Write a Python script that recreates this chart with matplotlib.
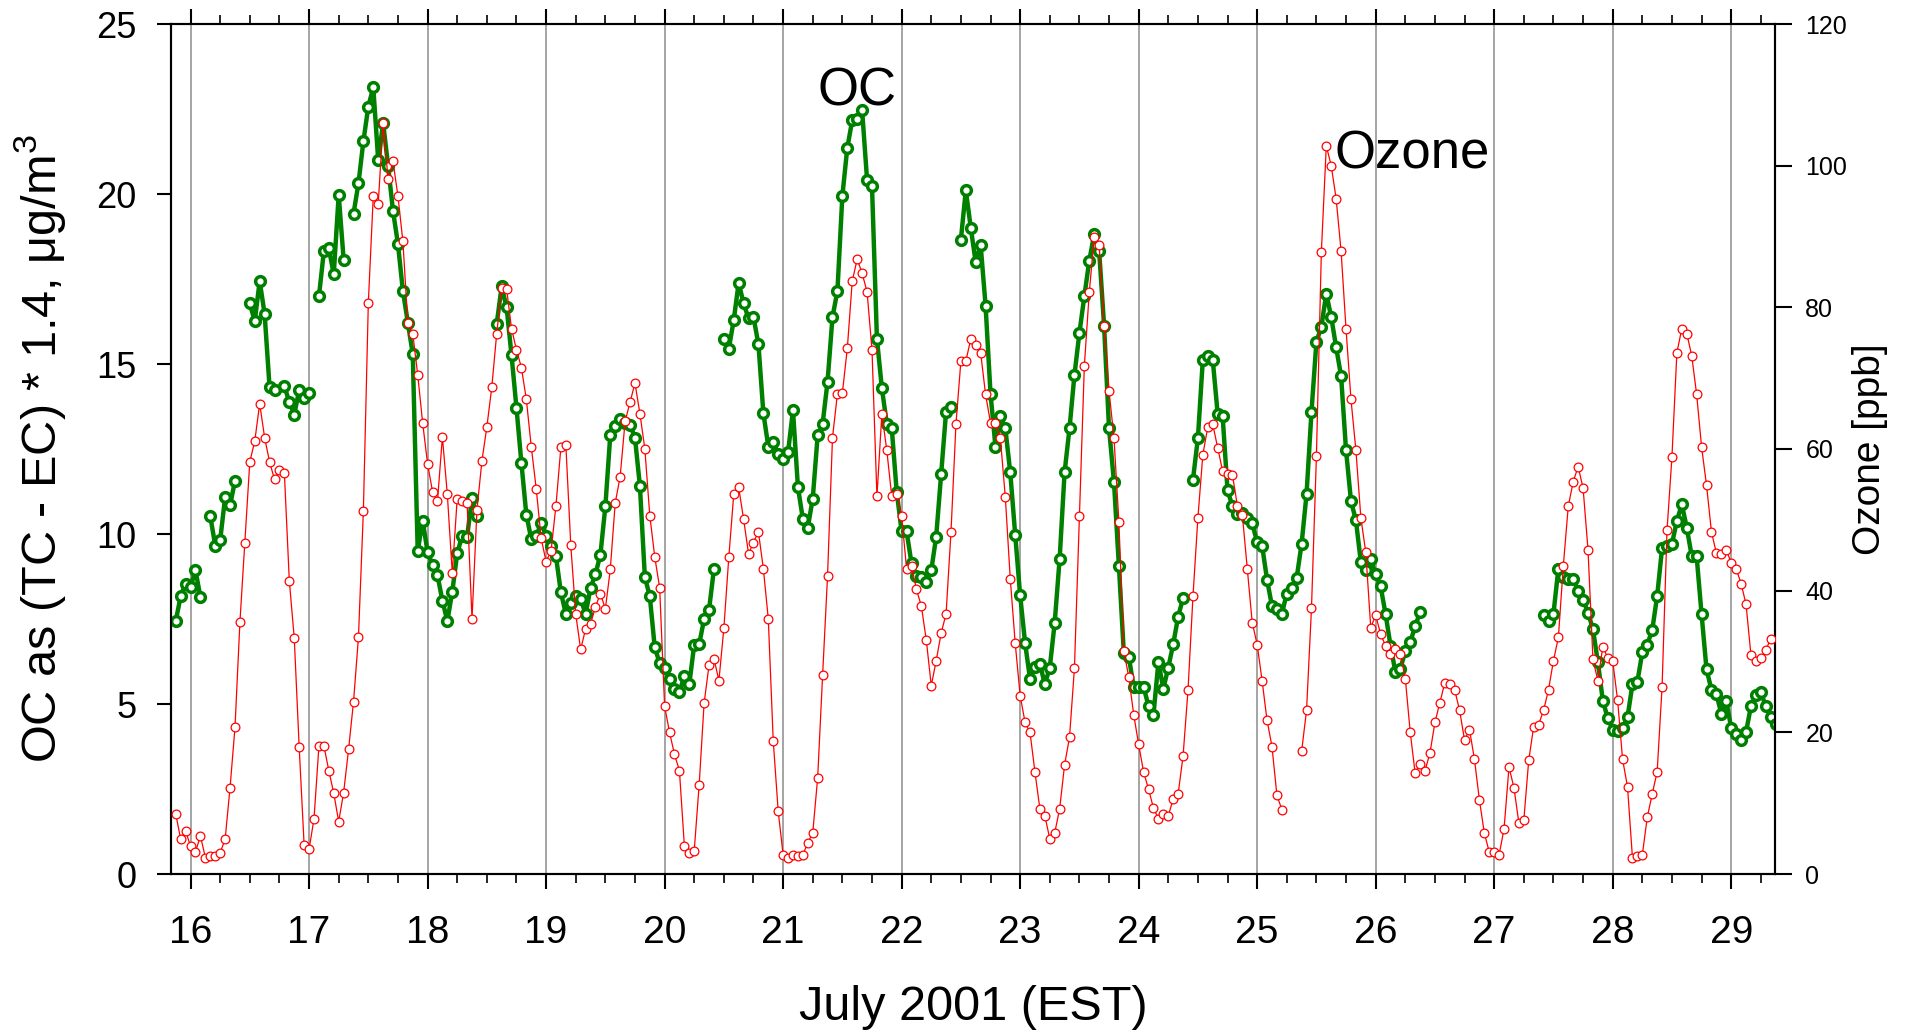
import numpy as np
import matplotlib
matplotlib.use('Agg')
import matplotlib.pyplot as plt
from matplotlib.ticker import MultipleLocator

plt.rcParams['font.family'] = ['Liberation Sans', 'DejaVu Sans']
plt.rcParams['mathtext.fontset'] = 'custom'
plt.rcParams['mathtext.rm'] = 'Liberation Sans'
plt.rcParams['mathtext.it'] = 'Liberation Sans:italic'

nan = np.nan

# hourly samples, the first one is 21:00 on July 15
start_day = 15.875

# OC as (TC - EC) * 1.4, ug/m3
oc = [
    7.44, 8.17, 8.54,
    8.45, 8.93, 8.14, nan, 10.52, 9.66, 9.82, 11.08, 10.84, 11.57, nan, nan,
    16.78, 16.26, 17.44, 16.47, 14.32, 14.24, nan, 14.35, 13.88, 13.51, 14.24, 14.0,   # 16
    14.16, nan, 16.99, 18.32, 18.4, 17.64, 19.98, 18.07, nan, 19.42, 20.31, 21.55,
    22.57, 23.14, 21.0, 22.09, 20.83, 19.5, 18.53, 17.15, 16.21, 15.29, 9.5, 10.39,    # 17
    9.47, 9.09, 8.79, 8.04, 7.44, 8.3, 9.43, 9.95, 9.92, 11.05, 10.52, nan,
    nan, nan, 16.18, 17.28, 16.67, 15.26, 13.71, 12.09, 10.57, 9.85, 9.95, 10.31,      # 18
    9.95, 9.66, 9.34, 8.28, 7.65, 7.98, 8.17, 8.09, 7.65, 8.41, 8.82, 9.39,
    10.81, 12.91, 13.19, 13.38, 13.27, 13.22, 12.83, 11.41, 8.74, 8.17, 6.67, 6.2,     # 19
    6.07, 5.74, 5.45, 5.34, 5.83, 5.58, 6.75, 6.76, 7.49, 7.77, 8.98, nan,
    15.73, 15.45, 16.29, 17.39, 16.78, 16.34, 16.38, 15.58, 13.56, 12.57, 12.7, 12.35,  # 20
    12.22, 12.41, 13.64, 11.38, 10.44, 10.19, 11.04, 12.9, 13.24, 14.48, 16.38, 17.15,
    19.95, 21.36, 22.17, 22.22, 22.46, 20.42, 20.23, 15.74, 14.29, 13.24, 13.11, 11.25,  # 21
    10.08, 10.08, 9.14, 8.77, 8.74, 8.58, 8.93, 9.92, 11.76, 13.59, 13.75, nan,
    18.66, 20.11, 19.01, 17.99, 18.5, 16.72, 14.13, 12.57, 13.48, 13.11, 11.81, 9.98,  # 22
    8.2, 6.8, 5.74, 6.1, 6.18, 5.58, 6.07, 7.39, 9.27, 11.81, 13.11, 14.68,
    15.91, 16.99, 18.04, 18.82, 18.33, 16.13, 13.11, 11.54, 9.06, 6.5, 6.39, 5.5,      # 23
    5.5, 5.5, 4.94, 4.69, 6.23, 5.45, 6.07, 6.76, 7.57, 8.12, nan, 11.6,
    12.82, 15.13, 15.24, 15.13, 13.54, 13.48, 11.29, 10.81, 10.6, 10.63, 10.47, 10.31,  # 24
    9.76, 9.66, 8.66, 7.88, 7.8, 7.65, 8.25, 8.41, 8.71, 9.71, 11.17, 13.59,
    15.65, 16.1, 17.07, 16.38, 15.49, 14.64, 12.46, 10.97, 10.4, 9.17, 8.93, 9.26,     # 25
    8.82, 8.46, 7.65, 6.72, 5.94, 6.04, 6.55, 6.83, 7.28, 7.72, nan, nan,
    nan, nan, nan, nan, nan, nan, nan, nan, nan, nan, nan, nan,                          # 26
    nan, nan, nan, nan, nan, nan, nan, nan, nan, nan, 7.61, 7.44,
    7.65, 8.98, 8.74, 8.69, 8.69, 8.33, 8.06, 7.69, 7.2, 6.23, 5.1, 4.58,              # 27
    4.24, 4.21, 4.29, 4.61, 5.58, 5.66, 6.52, 6.75, 7.17, 8.17, 9.58, 9.66,
    9.71, 10.39, 10.87, 10.19, 9.35, 9.34, 7.64, 6.02, 5.42, 5.29, 4.72, 5.1,          # 28
    4.29, 4.13, 3.93, 4.17, 4.94, 5.26, 5.34, 4.94, 4.61, 4.42,                        # 29
]

# ozone, ppb
ozone = [
    8.5, 4.9, 6.1,
    3.9, 3.1, 5.4, 2.3, 2.6, 2.6, 3.0, 4.9, 12.2, 20.7, 35.6, 46.8,
    58.2, 61.1, 66.4, 61.6, 58.2, 55.7, 57.1, 56.6, 41.4, 33.3, 17.9, 4.1,     # 16
    3.5, 7.8, 18.1, 18.1, 14.6, 11.4, 7.4, 11.5, 17.6, 24.3, 33.4, 51.3,
    80.6, 95.7, 94.6, 106.0, 98.1, 100.6, 95.7, 89.3, 77.8, 76.3, 70.5, 63.7,  # 17
    57.9, 54.0, 52.6, 61.7, 53.6, 42.5, 53.0, 52.7, 52.4, 36.0, 51.4, 58.3,
    63.1, 68.7, 76.3, 82.7, 82.6, 77.0, 74.0, 71.5, 67.0, 60.3, 54.4, 47.4,    # 18
    44.1, 45.6, 52.0, 60.3, 60.6, 46.4, 36.7, 31.7, 34.6, 35.3, 37.7, 39.6,
    37.4, 43.0, 52.4, 56.1, 63.9, 66.6, 69.3, 65.0, 60.0, 50.6, 44.8, 40.4,    # 19
    23.7, 20.0, 16.9, 14.6, 4.0, 2.9, 3.3, 12.6, 24.1, 29.5, 30.4, 27.3,
    34.7, 44.7, 53.6, 54.6, 50.1, 45.2, 46.8, 48.3, 43.1, 36.0, 18.8, 8.9,     # 20
    2.7, 2.3, 2.7, 2.5, 2.7, 4.4, 5.8, 13.6, 28.1, 42.1, 61.6, 67.8,
    67.9, 74.2, 83.7, 86.8, 84.8, 82.2, 74.0, 53.3, 65.0, 59.8, 53.3, 53.7,    # 21
    50.6, 43.1, 43.5, 40.2, 37.8, 33.0, 26.6, 30.1, 34.0, 36.7, 48.3, 63.5,
    72.4, 72.4, 75.5, 74.7, 73.6, 67.7, 63.7, 63.7, 61.5, 53.2, 41.7, 32.6,    # 22
    25.2, 21.4, 20.0, 14.4, 9.2, 8.2, 5.0, 5.8, 9.2, 15.4, 19.3, 29.1,
    50.5, 71.7, 82.1, 89.9, 88.8, 77.4, 68.2, 61.6, 49.7, 31.5, 27.8, 22.5,    # 23
    18.3, 14.4, 12.0, 9.3, 7.8, 8.5, 8.2, 10.6, 11.3, 16.7, 26.0, 39.2,
    50.3, 59.2, 63.1, 63.5, 60.2, 56.9, 56.5, 56.3, 52.0, 50.7, 43.1, 35.5,    # 24
    32.4, 27.3, 21.7, 18.0, 11.1, 9.1, nan, nan, nan, 17.3, 23.1, 37.5,
    59.0, 87.8, 102.8, 100.0, 95.3, 87.9, 76.9, 67.0, 59.8, 50.3, 45.4, 34.8,  # 25
    36.5, 33.9, 32.2, 31.1, 31.7, 31.1, 27.6, 20.0, 14.2, 15.5, 14.6, 17.1,
    21.4, 24.2, 27.0, 26.8, 26.0, 23.1, 18.9, 20.4, 16.2, 10.5, 5.8, 3.1,      # 26
    3.1, 2.7, 6.4, 15.1, 12.2, 7.2, 7.6, 16.1, 20.8, 21.1, 23.1, 26.0,
    30.1, 33.4, 43.5, 51.9, 55.4, 57.5, 54.5, 45.8, 30.3, 27.3, 32.1, 30.5,    # 27
    30.1, 24.5, 16.2, 12.3, 2.3, 2.5, 2.7, 8.0, 11.3, 14.4, 26.4, 48.5,
    58.9, 73.6, 77.0, 76.3, 73.2, 67.7, 60.3, 54.9, 48.3, 45.3, 45.2, 45.8,    # 28
    43.9, 43.1, 41.0, 38.1, 30.9, 30.1, 30.5, 31.6, 33.2,                      # 29
]

day_ticks = list(range(16, 30))
oc_ticks = [0, 5, 10, 15, 20, 25]
ozone_ticks = [0, 20, 40, 60, 80, 100, 120]

oc_t = start_day + np.arange(len(oc)) / 24
oz_t = start_day + np.arange(len(ozone)) / 24

fig = plt.figure(figsize=(19.14, 10.34), dpi=100)
ax = fig.add_axes([171 / 1914, 1 - 874 / 1034, 1603.7 / 1914, 850 / 1034])
ax2 = ax.twinx()

ax.plot(oc_t, oc, '-o', color='#008000', lw=3.2, ms=7, mew=2.5,
        mfc='white', mec='#008000', zorder=3)
ax2.plot(oz_t, ozone, '-o', color='red', lw=0.9, ms=6.3, mew=0.9,
         mfc='white', mec='red', zorder=3)

ax.set_xlim(15.835, 29.367)
ax.set_ylim(0, 25)
ax2.set_ylim(0, 120)

ax.set_xticks(day_ticks)
ax.xaxis.set_minor_locator(MultipleLocator(0.25))
ax.set_yticks(oc_ticks)
ax2.set_yticks(ozone_ticks)

ax.xaxis.grid(True, which='major', color='#8c8c8c', lw=1.1)
ax.set_axisbelow(True)

for a in (ax, ax2):
    for s in a.spines.values():
        s.set_linewidth(1.5)

ax.tick_params(axis='x', which='major', direction='out', top=True, length=10.5,
               width=1.5, labelsize=28, pad=19)
ax.tick_params(axis='x', which='minor', direction='out', top=True, length=6.5,
               width=1.2)
ax.tick_params(axis='y', direction='out', length=10, width=1.5, labelsize=26, pad=15)
ax2.tick_params(axis='y', direction='out', length=12, width=1.5, labelsize=18, pad=10)

ax.set_xlabel('July 2001 (EST)', fontsize=35, va='center')
ax.xaxis.set_label_coords(0.5, -0.1576)
ax.set_ylabel('OC as (TC - EC) * 1.4, μg/m$^3$', fontsize=35, va='center')
ax.yaxis.set_label_coords(-0.0817, 0.5)
ax2.set_ylabel('Ozone [ppb]', fontsize=28, va='center')
ax2.yaxis.set_label_coords(1.0594, 0.5)

ax.text(21.29, 22.6, 'OC', fontsize=38, ha='left', va='baseline')
ax.text(25.65, 20.75, 'Ozone', fontsize=38, ha='left', va='baseline')

fig.savefig('out.png', dpi=100)
